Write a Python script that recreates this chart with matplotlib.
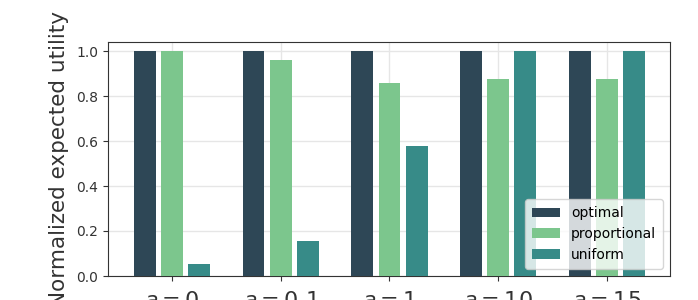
import numpy as np
import matplotlib
matplotlib.use('Agg')
import matplotlib.pyplot as plt

labels = ['$a=0$', '$a=0.1$', '$a=1$', '$a=10$', '$a=15$']
optimal = [1.0, 1.0, 1.0, 1.0, 1.0]
proportional = [1.0, 0.961, 0.859, 0.877, 0.877]
uniform = [0.052, 0.156, 0.578, 1.0, 1.0]

names = ['optimal', 'proportional', 'uniform']
colors = ['#2e4756', '#7cc68d', '#378b88']

fig = plt.figure(figsize=(6.98, 3.0), dpi=100)
ax = fig.add_axes([0.1547, 0.08, 0.805, 0.78])

x = np.arange(len(labels))
w = 0.2
for i, (vals, name) in enumerate(zip([optimal, proportional, uniform], names)):
	ax.bar(x + (i - 1) * 0.25, vals, w, color=colors[i], label=name, zorder=3)

ax.set_xticks(x)
ax.set_xticklabels(labels, fontsize=16)
ax.set_yticks([0, 0.2, 0.4, 0.6, 0.8, 1.0])
ax.set_yticklabels(['0.0', '0.2', '0.4', '0.6', '0.8', '1.0'], fontsize=10, color='#333333')
ax.set_xlim(-0.59, 4.58)
ax.set_ylim(0, 1.04)
ax.grid(True, color='#e6e6e6', linewidth=1, zorder=0)
ax.set_axisbelow(True)
for s in ax.spines.values():
	s.set_color('#333333')
ax.tick_params(colors='#333333', length=3.5)
ax.tick_params(axis='x', pad=7)
ax.set_ylabel('Normalized expected utility', fontsize=15.5, color='#333333', labelpad=5)
ax.legend(loc='lower right', fontsize=10, borderpad=0.5)

fig.savefig('out.png', dpi=100)
